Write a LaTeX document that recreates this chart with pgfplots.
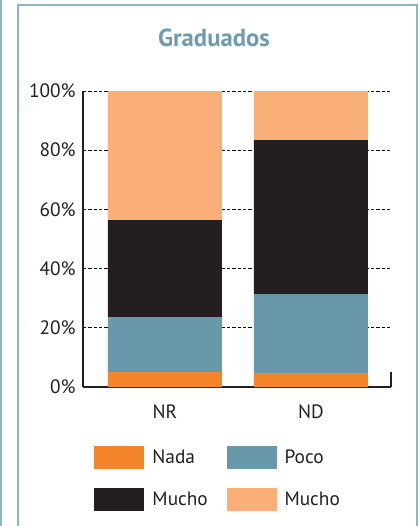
\documentclass[border=0pt]{standalone}
\usepackage{pgfplots}
\pgfplotsset{compat=1.18}
\usepackage{fontspec}
\setmainfont{PT Sans}
\definecolor{nada}{RGB}{245,133,43}
\definecolor{poco}{RGB}{106,152,171}
\definecolor{muchoA}{RGB}{35,31,32}
\definecolor{muchoB}{RGB}{249,175,119}
\definecolor{titulo}{RGB}{111,154,175}
\definecolor{marco}{RGB}{143,178,198}
\definecolor{texto}{RGB}{35,31,32}
\begin{document}
\begin{tikzpicture}
  \useasboundingbox (0pt,0pt) rectangle (314.25pt,-394.5pt);
  % panel frames
  \draw[marco, line width=0.9pt] (13.5pt,-400pt) -- (13.5pt,-3.75pt) -- (312.75pt,-3.75pt) -- (312.75pt,-400pt);
  \draw[marco, line width=0.9pt] (0.75pt,0pt) -- (0.75pt,-400pt);
  \begin{axis}[
    at={(62.25pt,-290.25pt)}, anchor=south west,
    scale only axis, clip=false,
    width=231pt, height=222pt,
    ybar stacked,
    bar width=85.5pt,
    xmin=-0.5616, xmax=1.548,
    ymin=0, ymax=100,
    xtick={0,1}, xticklabels={NR,ND},
    ytick={0,20,...,100},
    yticklabel={\pgfmathprintnumber{\tick}\%},
    /pgf/number format/assume math mode=true,
    ticklabel style={font=\fontsize{14.5pt}{16pt}\selectfont, text=texto},
    xticklabel style={yshift=-10pt},
    yticklabel style={xshift=-2pt},
    major tick length=0pt,
    axis x line*=bottom, axis y line*=left,
    axis line style={line width=1pt, texto, -},
    ymajorgrids,
    grid style={black, line width=0.5pt, dash pattern=on 2.5pt off 1.5pt},
    title={Graduados},
    title style={at={(0.425,1)}, anchor=base, yshift=27.75pt,
      text=titulo, font=\fontsize{18.5pt}{20pt}\selectfont\bfseries},
    legend columns=2,
    legend cell align=left,
    legend image code/.code={\fill[#1] (0pt,-8.6pt) rectangle (37.5pt,8.6pt);},
    legend style={
      at={(0.44,-0.19)}, anchor=north,
      draw=none, fill=none,
      font=\fontsize{14.5pt}{16pt}\selectfont, text=texto,
      row sep=14pt,
      /tikz/every odd column/.append style={column sep=4pt},
      /tikz/every even column/.append style={column sep=12pt},
    },
  ]
    \addplot[fill=nada, draw=none] coordinates {(0,5.0) (1,4.7)};
    \addlegendentry{Nada}
    \addplot[fill=poco, draw=none] coordinates {(0,18.6) (1,26.7)};
    \addlegendentry{Poco}
    \addplot[fill=muchoA, draw=none] coordinates {(0,32.8) (1,52.0)};
    \addlegendentry{Mucho}
    \addplot[fill=muchoB, draw=none] coordinates {(0,43.6) (1,16.6)};
    \addlegendentry{Mucho}
    \draw[texto, line width=1pt] (rel axis cs:1,0) -- (rel axis cs:1,0.05);
  \end{axis}
\end{tikzpicture}
\end{document}
